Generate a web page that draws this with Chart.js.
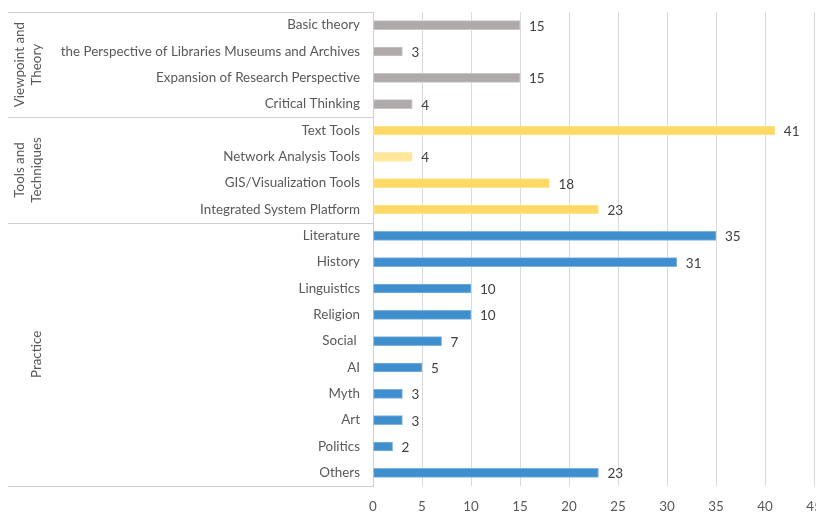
<!DOCTYPE html>
<html>
<head>
<meta charset="utf-8">
<script src="https://cdn.jsdelivr.net/npm/chart.js@4.4.1/dist/chart.umd.min.js"></script>
<style>
  html, body { margin: 0; padding: 0; background: #ffffff; }
  #wrap { width: 816px; height: 512px; position: relative; }
</style>
</head>
<body>
<div id="wrap"><canvas id="c" width="816" height="512"></canvas></div>
<script>
const categories = [
  "Basic theory",
  "the Perspective of Libraries Museums and Archives",
  "Expansion of Research Perspective",
  "Critical Thinking",
  "Text Tools",
  "Network Analysis Tools",
  "GIS/Visualization Tools",
  "Integrated System Platform",
  "Literature",
  "History",
  "Linguistics",
  "Religion",
  "Social ",
  "AI",
  "Myth",
  "Art",
  "Politics",
  "Others"
];
const counts = [15, 3, 15, 4, 41, 4, 18, 23, 35, 31, 10, 10, 7, 5, 3, 3, 2, 23];
const groupNames = [["Viewpoint and", "Theory"], ["Tools and", "Techniques"], ["Practice"]];
const groupStarts = [0, 4, 8];
const groupEnds = [3, 7, 17];
const xTicks = [0, 5, 10, 15, 20, 25, 30, 35, 40, 45];

const GRAY = "#AEAAAA", GOLD = "#FFD966", LGOLD = "#FFE699", BLUE = "#3F8FCF";
const barColors = [GRAY, GRAY, GRAY, GRAY, GOLD, LGOLD, GOLD, GOLD,
  BLUE, BLUE, BLUE, BLUE, BLUE, BLUE, BLUE, BLUE, BLUE, BLUE];
const borderColors = barColors.map(c => c === GRAY ? "#C9C6C6" : c === BLUE ? "#7EB3E0" : c === GOLD ? "#FFE490" : "#FFEDB8");

const FONT = "Lato";
const TXT = "#595959";
const FS = 13.4;

const groupPlugin = {
  id: "groups",
  afterDraw(chart) {
    const ctx = chart.ctx;
    const y = chart.scales.y;
    const area = chart.chartArea;
    const boundary = (i) => {
      if (i < 0) return area.top;
      if (i >= categories.length - 1) return area.bottom;
      return (y.getPixelForValue(i) + y.getPixelForValue(i + 1)) / 2;
    };
    ctx.save();
    ctx.strokeStyle = "#D0D0D0";
    ctx.lineWidth = 1;
    const lines = [area.top];
    groupEnds.forEach(e => lines.push(boundary(e)));
    lines.forEach(ly => {
      const yy = Math.round(ly) + 0.5;
      ctx.beginPath();
      ctx.moveTo(8, yy);
      ctx.lineTo(area.left, yy);
      ctx.stroke();
    });
    ctx.fillStyle = TXT;
    ctx.font = FS + "px " + FONT;
    ctx.textAlign = "center";
    ctx.textBaseline = "middle";
    groupNames.forEach((names, g) => {
      const top = boundary(groupStarts[g] - 1);
      const bot = boundary(groupEnds[g]);
      const cy = (top + bot) / 2;
      const xs = names.length === 2 ? [20, 37] : [37];
      names.forEach((n, k) => {
        ctx.save();
        ctx.translate(xs[k], cy);
        ctx.rotate(-Math.PI / 2);
        ctx.fillText(n, 0, 0);
        ctx.restore();
      });
    });
    // data labels
    const meta = chart.getDatasetMeta(0);
    ctx.fillStyle = "#404040";
    ctx.font = "13.5px " + FONT;
    ctx.textAlign = "left";
    meta.data.forEach((bar, i) => {
      ctx.fillText(String(counts[i]), bar.x + 9, bar.y + 1);
    });
    ctx.restore();
  }
};

new Chart(document.getElementById("c"), {
  type: "bar",
  data: {
    labels: categories,
    datasets: [{
      data: counts,
      backgroundColor: barColors,
      borderColor: borderColors,
      borderWidth: 1,
      barThickness: 9,
      borderSkipped: false
    }]
  },
  options: {
    indexAxis: "y",
    responsive: false,
    animation: false,
    devicePixelRatio: 1,
    layout: { padding: { top: 12, right: 2, bottom: 0, left: 0 } },
    plugins: { legend: { display: false }, tooltip: { enabled: false } },
    scales: {
      x: {
        type: "linear",
        min: 0,
        max: 45,
        afterBuildTicks(scale) { scale.ticks = xTicks.map(v => ({ value: v })); },
        afterFit(scale) { scale.height = 26; scale.paddingRight = 0; scale.paddingLeft = 0; },
        grid: { color: "#D9D9D9", drawTicks: false },
        border: { display: false },
        ticks: { color: TXT, font: { family: FONT, size: FS }, padding: 13 }
      },
      y: {
        type: "category",
        afterFit(scale) { scale.width = 373; scale.paddingTop = 0; scale.paddingBottom = 0; },
        grid: { display: false, drawTicks: false },
        border: { display: true, color: "#D0D0D0" },
        ticks: { color: TXT, font: { family: FONT, size: FS }, padding: 13, autoSkip: false }
      }
    }
  },
  plugins: [groupPlugin]
});
</script>
</body>
</html>
